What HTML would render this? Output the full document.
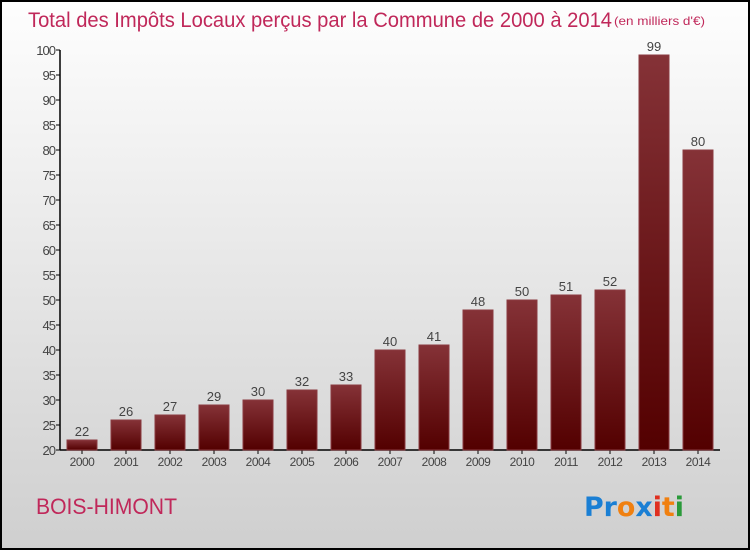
<!DOCTYPE html>
<html><head><meta charset="utf-8"><style>
body{margin:0;}
#c{width:750px;height:550px;position:relative;overflow:hidden;font-family:"Liberation Sans",sans-serif;}
</style></head><body>
<div id="c">
<svg id="s" width="750" height="550" xmlns="http://www.w3.org/2000/svg">
<defs>
<linearGradient id="bg" x1="0" y1="0" x2="0" y2="1"><stop offset="0" stop-color="#fefefe"/><stop offset="1" stop-color="#cfcfcf"/></linearGradient>
<linearGradient id="bar" x1="0" y1="0" x2="0" y2="1"><stop offset="0" stop-color="#853237"/><stop offset="1" stop-color="#530000"/></linearGradient>
</defs>
<rect x="1" y="1" width="748" height="548" fill="url(#bg)" stroke="#000" stroke-width="2"/>
<text x="28" y="27" font-size="21" fill="#c0285a" textLength="584" lengthAdjust="spacingAndGlyphs">Total des Impôts Locaux perçus par la Commune de 2000 à 2014</text>
<text x="614" y="25" font-size="12" fill="#c0285a" textLength="91" lengthAdjust="spacingAndGlyphs">(en milliers d'€)</text>
<g id="axes"></g>
<g id="bars"></g>
<text x="36" y="514" font-size="22" fill="#c0285a" textLength="141" lengthAdjust="spacingAndGlyphs">BOIS-HIMONT</text>
<g font-size="27" font-weight="bold" font-family="'DejaVu Sans',sans-serif">
<text x="584" y="516" textLength="100" lengthAdjust="spacingAndGlyphs"><tspan fill="#1a7fd4">Pr</tspan><tspan fill="#f08010">o</tspan><tspan fill="#1a7fd4">x</tspan><tspan fill="#e03020">i</tspan><tspan fill="#f08010">t</tspan><tspan fill="#2a9a3a">i</tspan></text>
</g>
</svg>
</div>
<script>
const years=["2000","2001","2002","2003","2004","2005","2006","2007","2008","2009","2010","2011","2012","2013","2014"];
const values=[22,26,27,29,30,32,33,40,41,48,50,51,52,99,80];
const yTicks=[20,25,30,35,40,45,50,55,60,65,70,75,80,85,90,95,100];
const NS="http://www.w3.org/2000/svg";
const y0=450,yTop=50,vMin=20,vMax=100,x0=60,step=44,bw=30,firstC=82;
function yS(v){return y0-(v-vMin)/(vMax-vMin)*(y0-yTop);}
function xS(i){return firstC+i*step;}
function mk(t,a,p){const e=document.createElementNS(NS,t);for(const k in a)e.setAttribute(k,a[k]);p.appendChild(e);return e;}
const ax=document.getElementById('axes'),bg=document.getElementById('bars');
let l=mk('line',{x1:x0,y1:yTop,x2:x0,y2:y0,stroke:'#000','stroke-width':1.5},ax);


l=mk('line',{x1:x0,y1:y0,x2:720,y2:y0,stroke:'#000','stroke-width':1.5},ax);


yTicks.forEach(v=>{
 const t=mk('line',{x1:x0-4,y1:yS(v),x2:x0,y2:yS(v),stroke:'#000'},ax);
 
 
 const tx=mk('text',{x:x0-5,y:yS(v)+5,'font-size':13,fill:'#444','text-anchor':'end','letter-spacing':'-1'},ax);
 tx.textContent=v;
 
 
});
years.forEach((yr,i)=>{
 const c=xS(i),v=values[i];
 const r=mk('rect',{x:c-bw/2,y:yS(v),width:bw,height:y0-yS(v),fill:'url(#bar)',stroke:'#8a3a40','stroke-width':1},bg);
 
 
 const t=mk('line',{x1:c,y1:y0,x2:c,y2:y0+4,stroke:'#000'},ax);
 
 
 const xl=mk('text',{x:c,y:y0+16,'font-size':12,fill:'#444','text-anchor':'middle','letter-spacing':'-0.5'},ax);
 xl.textContent=yr;
 
 
 const vl=mk('text',{x:c,y:yS(v)-4,'font-size':13,fill:'#444','text-anchor':'middle'},bg);
 vl.textContent=v;
 
 
});
</script>
</body></html>
